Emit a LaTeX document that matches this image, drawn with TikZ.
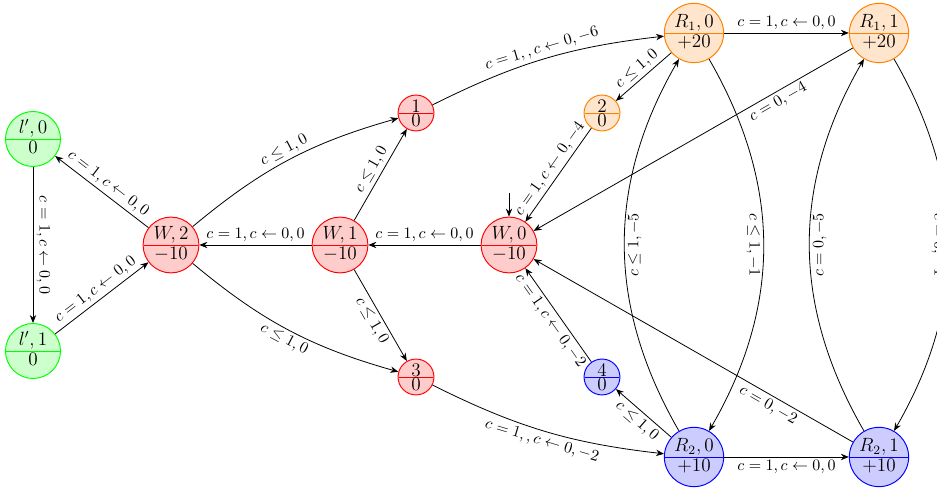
\documentclass[tikz,border=0pt]{standalone}
\usetikzlibrary{shapes.multipart,arrows.meta}
\begin{document}
\begin{tikzpicture}[x=0.022cm,y=0.022cm,
  >={Stealth[length=5pt,width=4pt]},
  edge/.style={->,line width=0.5pt},
  lbl/.style={sloped,inner sep=2pt},
  st/.style={circle split,draw,line width=0.6pt,inner sep=1pt,minimum size=1.21cm,font=\large},
  sm/.style={circle split,draw,line width=0.6pt,inner sep=0.3pt,minimum size=0.79cm,font=\large},
  rst/.style={st,draw=red,fill=red!20},
  rsm/.style={sm,draw=red,fill=red!20},
  ost/.style={st,minimum size=1.29cm,draw=orange,fill=orange!20},
  osm/.style={sm,draw=orange,fill=orange!20},
  bst/.style={st,minimum size=1.29cm,draw=blue,fill=blue!20},
  bsm/.style={sm,draw=blue,fill=blue!20},
  gst/.style={st,draw=green,fill=green!20}]
\useasboundingbox (0,0) rectangle (937,488);

\node[gst] (l0) at (33,349) {$l',0$ \nodepart{lower} $0$};
\node[gst] (l1) at (33,137) {$l',1$ \nodepart{lower} $0$};
\node[rst] (W2) at (171,243) {$W,2$ \nodepart{lower} $-10$};
\node[rst] (W1) at (340,243) {$W,1$ \nodepart{lower} $-10$};
\node[rst] (W0) at (509,243) {$W,0$ \nodepart{lower} $-10$};
\node[rsm] (n1) at (416,375) {$1$ \nodepart{lower} $0$};
\node[rsm] (n3) at (416,111) {$3$ \nodepart{lower} $0$};
\node[osm] (n2) at (602,375) {$2$ \nodepart{lower} $0$};
\node[bsm] (n4) at (602,111) {$4$ \nodepart{lower} $0$};
\node[ost] (R10) at (694,455) {$R_1,0$ \nodepart{lower} $+20$};
\node[ost] (R11) at (879,455) {$R_1,1$ \nodepart{lower} $+20$};
\node[bst] (R20) at (694,31) {$R_2,0$ \nodepart{lower} $+10$};
\node[bst] (R21) at (879,31) {$R_2,1$ \nodepart{lower} $+10$};
\coordinate (init) at (509,295);

\draw[edge] (init) -- (W0);
\draw[edge] (l0) -- node[lbl,above] {$c=1,c\leftarrow 0,0$} (l1);
\draw[edge] (W2) -- node[lbl,above] {$c=1,c\leftarrow 0,0$} (l0);
\draw[edge] (l1) -- node[lbl,above] {$c=1,c\leftarrow 0,0$} (W2);
\draw[edge] (W1) -- node[lbl,above] {$c=1,c\leftarrow 0,0$} (W2);
\draw[edge] (W0) -- node[lbl,above] {$c=1,c\leftarrow 0,0$} (W1);
\draw[edge] (W2) to[bend left=12] node[lbl,above] {$c\leq 1,0$} (n1);
\draw[edge] (W2) to[bend right=12] node[lbl,below] {$c\leq 1,0$} (n3);
\draw[edge] (W1) -- node[lbl,above] {$c\leq 1,0$} (n1);
\draw[edge] (W1) -- node[lbl,below] {$c\leq 1,0$} (n3);
\draw[edge] (n1) to[bend left=10] node[lbl,above] {$c=1,,c\leftarrow 0,-6$} (R10);
\draw[edge] (n3) to[bend right=10] node[lbl,below] {$c=1,,c\leftarrow 0,-2$} (R20);
\draw[edge] (R10) -- node[lbl,above] {$c\leq 1,0$} (n2);
\draw[edge] (n2) -- node[lbl,above] {$c=1,c\leftarrow 0,-4$} (W0);
\draw[edge] (R11) -- node[lbl,below,pos=0.25] {$c=0,-4$} (W0);
\draw[edge] (R20) -- node[lbl,below] {$c\leq 1,0$} (n4);
\draw[edge] (n4) -- node[lbl,below] {$c=1,c\leftarrow 0,-2$} (W0);
\draw[edge] (R21) -- node[lbl,below,pos=0.25] {$c=0,-2$} (W0);
\draw[edge] (R10) -- node[lbl,above] {$c=1,c\leftarrow 0,0$} (R11);
\draw[edge] (R20) -- node[lbl,below] {$c=1,c\leftarrow 0,0$} (R21);
\draw[edge] (R20) to[bend left=30] node[lbl,below] {$c\leq 1,-5$} (R10);
\draw[edge] (R10) to[bend left=30] node[lbl,below] {$c\leq 1,-1$} (R20);
\draw[edge] (R21) to[bend left=30] node[lbl,below] {$c=0,-5$} (R11);
\draw[edge] (R11) to[bend left=30] node[lbl,below] {$c=0,-1$} (R21);
\end{tikzpicture}
\end{document}
